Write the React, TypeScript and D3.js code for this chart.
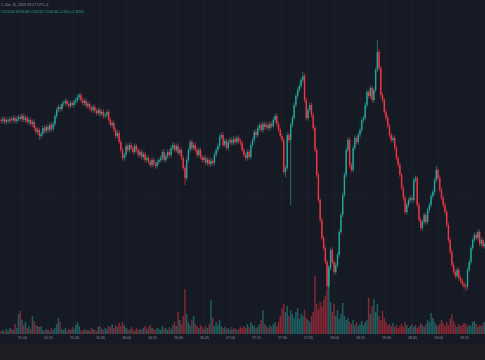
import * as d3 from "d3";
import { useEffect, useRef } from "react";

// 1-minute candles, first one at 14:48, prices
const firstOpen = 280;
const closes = [
  279, 281, 278, 280, 279, 281, 280, 282, 279, 281,
  283, 281, 284, 280, 282, 278, 280, 276, 278, 272,
  268, 270, 264, 266, 272, 269, 273, 270, 275, 271,
  276, 284, 290, 293, 291, 296, 297, 299, 296, 294,
  297, 295, 298, 300, 303, 305, 300, 297, 299, 294,
  296, 292, 290, 293, 289, 287, 290, 286, 288, 284,
  285, 288, 280, 275, 277, 270, 264, 267, 258, 250,
  242, 245, 254, 250, 255, 252, 248, 254, 250, 245,
  248, 243, 246, 240, 242, 238, 235, 240, 236, 234,
  238, 240, 242, 248, 240, 244, 248, 245, 252, 255,
  250, 254, 247, 250, 242, 232, 222, 240, 250, 258,
  252, 255, 250, 245, 250, 243, 240, 242, 237, 240,
  236, 239, 237, 245, 250, 254, 263, 265, 255, 259,
  252, 258, 260, 257, 261, 258, 262, 259, 257, 250,
  245, 242, 248, 243, 255, 260, 268, 265, 272, 275,
  270, 276, 273, 275, 272, 276, 274, 280, 284, 276,
  270, 264, 260, 228, 232, 265, 260, 275, 282, 295,
  304, 310, 314, 320, 324, 300, 282, 290, 295, 285,
  272, 250, 225, 200, 180, 162, 152, 138, 114, 132,
  150, 138, 128, 135, 145, 168, 185, 205, 225, 250,
  260, 235, 230, 252, 262, 258, 265, 270, 280, 282,
  295, 308, 304, 312, 300, 310, 330, 348, 332, 305,
  300, 288, 282, 274, 265, 260, 262, 252, 242, 235,
  225, 212, 202, 188, 195, 200, 202, 200, 220, 222,
  195, 180, 172, 178, 185, 178, 190, 195, 204, 208,
  220, 230, 222, 210, 202, 195, 188, 175, 160, 148,
  135, 128, 124, 130, 122, 119, 116, 114, 113, 130,
  138, 152, 160, 165, 162, 168, 156, 160, 154, 156,
];

// volume in thousands
const volumes = [
  3, 4, 2, 5, 3, 6, 5, 4, 10, 6,
  20, 23, 14, 9, 12, 6, 8, 5, 18, 13,
  9, 8, 7, 8, 4, 3, 5, 4, 3, 6,
  4, 6, 10, 16, 12, 5, 4, 6, 3, 5,
  4, 7, 5, 9, 12, 8, 4, 3, 5, 4,
  4, 3, 6, 5, 4, 3, 7, 8, 5, 4,
  6, 5, 8, 7, 10, 6, 9, 7, 11, 8,
  12, 9, 6, 5, 4, 7, 5, 3, 6, 4,
  5, 4, 6, 8, 5, 7, 9, 6, 5, 4,
  6, 5, 4, 8, 5, 6, 4, 7, 5, 9,
  12, 8, 22, 14, 10, 18, 45, 20, 12, 9,
  14, 18, 10, 8, 6, 9, 7, 5, 8, 6,
  10, 34, 16, 8, 12, 9, 14, 8, 6, 7,
  5, 6, 4, 7, 5, 6, 4, 5, 7, 6,
  8, 6, 10, 7, 12, 9, 8, 6, 7, 10,
  14, 24, 10, 8, 6, 9, 7, 10, 12, 8,
  12, 18, 26, 30, 22, 28, 18, 24, 20, 16,
  22, 26, 15, 20, 18, 24, 16, 14, 12, 18,
  22, 58, 30, 25, 32, 28, 34, 38, 42, 68,
  32, 22, 30, 18, 24, 15, 20, 31, 18, 14,
  16, 12, 10, 14, 9, 12, 8, 10, 13, 9,
  12, 14, 36, 20, 28, 35, 22, 30, 18, 14,
  23, 16, 12, 9, 10, 8, 11, 7, 9, 6,
  8, 10, 7, 12, 9, 6, 8, 10, 7, 9,
  6, 8, 11, 9, 7, 10, 14, 12, 21, 16,
  12, 9, 8, 10, 14, 11, 8, 12, 9, 15,
  20, 13, 9, 7, 10, 8, 9, 11, 10, 7,
  9, 8, 12, 13, 10, 7, 9, 8, 11, 12,
];

// the few long wicks that stand out
const longHighs: Record<number, number> = { 45: 307, 174: 328, 217: 360, 251: 234 };
const longLows: Record<number, number> = { 22: 260, 106: 215, 164: 223, 167: 195, 188: 107, 268: 109 };

const headerLine1 = "1, Dec 11, 2023 19:27 UTC+1";
const headerLine2 = "O154.00 H156.80 L153.20 C156.00 +2.00 (+1.30%)";

interface Candle {
  t: Date;
  open: number;
  high: number;
  low: number;
  close: number;
  volume: number;
}

function draw(node: SVGSVGElement) {
  const width = 485;
  const height = 360;
  const paneBottom = 344;
  const volBase = 334;

  const start = new Date(2023, 11, 11, 14, 48);
  const data: Candle[] = closes.map((c, i) => {
    const open = i === 0 ? firstOpen : closes[i - 1];
    return {
      t: d3.timeMinute.offset(start, i),
      open,
      close: c,
      high: longHighs[i] ?? Math.max(open, c) + 2.5,
      low: longLows[i] ?? Math.min(open, c) - 2.5,
      volume: volumes[i],
    };
  });

  // 15 minutes take 26px; 15:00 sits at x = 22
  const t15 = new Date(2023, 11, 11, 15, 0);
  const pxPerMin = 26 / 15;
  const x = d3.scaleTime()
    .domain([d3.timeSecond.offset(t15, (-22 / pxPerMin) * 60), d3.timeSecond.offset(t15, ((width - 22) / pxPerMin) * 60)])
    .range([0, width]);
  const y = d3.scaleLinear().domain([40, 400]).range([360, 0]);
  const v = d3.scaleLinear().domain([0, 80]).range([volBase, volBase - 80]);

  const up = "#26a69a";
  const down = "#f23645";

  const svg = d3.select(node);
  svg.selectAll("*").remove();

  svg.append("rect").attr("width", width).attr("height", height).attr("fill", "#1e1f22");
  svg.append("rect").attr("width", width).attr("height", paneBottom).attr("fill", "#161a25");

  const ticks = x.ticks(d3.timeMinute.every(15)!);

  // grid
  svg.append("g")
      .attr("stroke", "#1f2330")
      .attr("stroke-width", 0.8)
    .selectAll()
    .data(ticks)
    .join("line")
      .attr("x1", (d) => x(d))
      .attr("x2", (d) => x(d))
      .attr("y1", 0)
      .attr("y2", volBase);
  svg.append("line")
      .attr("stroke", "#1f2330")
      .attr("stroke-width", 0.8)
      .attr("x1", 0)
      .attr("x2", width)
      .attr("y1", y(205))
      .attr("y2", y(205));

  const w = pxPerMin;

  // volume
  svg.append("g")
    .selectAll()
    .data(data)
    .join("rect")
      .attr("x", (d) => x(d.t) - w * 0.42)
      .attr("width", w * 0.84)
      .attr("y", (d) => v(d.volume))
      .attr("height", (d) => volBase - v(d.volume))
      .attr("fill", (d) => (d.close >= d.open ? up : down))
      .attr("fill-opacity", 0.5);

  // candles
  const candles = svg.append("g")
    .selectAll()
    .data(data)
    .join("g")
      .attr("fill", (d) => (d.close >= d.open ? up : down))
      .attr("stroke", (d) => (d.close >= d.open ? up : down));

  candles.append("line")
      .attr("x1", (d) => x(d.t))
      .attr("x2", (d) => x(d.t))
      .attr("y1", (d) => y(d.high))
      .attr("y2", (d) => y(d.low))
      .attr("stroke-width", 0.6);

  candles.append("rect")
      .attr("stroke", "none")
      .attr("x", (d) => x(d.t) - w * 0.4)
      .attr("width", w * 0.8)
      .attr("y", (d) => y(Math.max(d.open, d.close)))
      .attr("height", (d) => Math.max(0.8, Math.abs(y(d.open) - y(d.close))));

  // time axis
  svg.append("g")
      .attr("transform", `translate(0,${volBase + 2.2})`)
      .call(d3.axisBottom(x)
        .ticks(d3.timeMinute.every(15)!)
        .tickFormat((d) => d3.timeFormat("%H:%M")(d as Date))
        .tickSize(0)
        .tickPadding(0))
      .call((g) => g.select(".domain").remove())
      .call((g) => g.selectAll("text")
        .attr("fill", "#9598a1")
        .style("font", "3.6px 'Liberation Sans', Arial, sans-serif"));

  // legend
  svg.append("text")
      .attr("x", 1)
      .attr("y", 5.5)
      .attr("fill", "#9598a1")
      .style("font", "3.6px 'Liberation Sans', Arial, sans-serif")
      .text(headerLine1);
  svg.append("text")
      .attr("x", 1)
      .attr("y", 13)
      .attr("fill", up)
      .style("font", "3.6px 'Liberation Sans', Arial, sans-serif")
      .text(headerLine2);
}

function App() {
  const ref = useRef<SVGSVGElement | null>(null);
  useEffect(() => {
    if (ref.current) draw(ref.current);
  }, []);
  return (
    <svg
      ref={ref}
      width={485}
      height={360}
      style={{ position: "fixed", left: 0, top: 0, display: "block" }}
    />
  );
}

export default App;
